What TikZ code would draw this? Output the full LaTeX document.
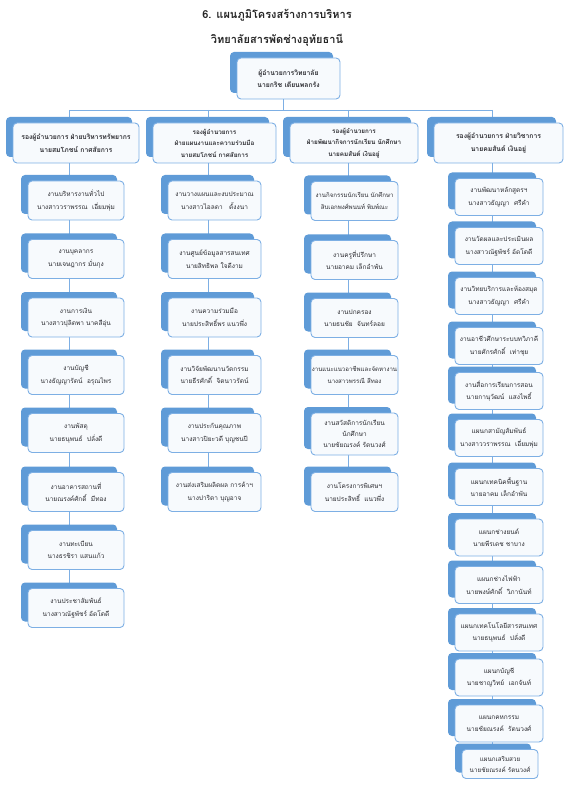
\documentclass[tikz,border=0pt]{standalone}
\usepackage{fontspec}
\newfontfamily\thai[Script=Thai]{Loma}
\usetikzlibrary{backgrounds,shadows}
\definecolor{backblue}{RGB}{95,155,215}
\definecolor{edgeblue}{RGB}{125,175,228}
\definecolor{cardfill}{RGB}{247,250,253}
\definecolor{txt}{RGB}{45,45,50}
\begin{document}
\begin{tikzpicture}[x=1pt,y=-1pt,
  card/.style={draw=edgeblue, line width=0.9pt, fill=cardfill, rounded corners=4pt,
    align=center, inner sep=0pt, text=txt,
    font=\thai\fontsize{6.5}{12.5}\selectfont,
    general shadow={fill=backblue, shadow xshift=-7pt, shadow yshift=6pt}},
  head/.style={card, font=\thai\bfseries\fontsize{6.8}{12.5}\selectfont, minimum height=40pt},
  job1/.style={card, minimum width=96pt, minimum height=39pt},
  job2/.style={card, minimum width=93pt, minimum height=39pt},
  job3/.style={card, minimum width=87pt, minimum height=39pt},
  job4/.style={card, minimum width=88pt, minimum height=37pt},
  conn/.style={draw=edgeblue, line width=0.9pt},
  title/.style={font=\thai\bfseries\fontsize{11}{13}\selectfont, text=black!85}]
\useasboundingbox (0,0) rectangle (579,791);

\node[title] (t1) at (277,15) {6. แผนภูมิโครงสร้างการบริหาร};
\node[title] (t2) at (277,40) {วิทยาลัยสารพัดช่างอุทัยธานี};

\coordinate (L0) at (283,0);
\coordinate (L1) at (69,0);
\coordinate (L2) at (208,0);
\coordinate (L3) at (348,0);
\coordinate (L4) at (492,0);
\coordinate (bus) at (0,110);

\node[head, minimum width=103pt, minimum height=41pt] (top) at (288.5,78.5) {ผู้อำนวยการวิทยาลัย\\นายกริช เตียนพลกรัง};

\node[head, minimum width=126pt] (h1) at (76,143) {รองผู้อำนวยการ ฝ่ายบริหารทรัพยากร\\นายสมโภชน์ กาศสัยการ};
\node[head, minimum width=123pt, font=\thai\bfseries\fontsize{6.3}{11.5}\selectfont] (h2) at (214.5,143) {รองผู้อำนวยการ\\ฝ่ายแผนงานและความร่วมมือ\\นายสมโภชน์ กาศสัยการ};
\node[head, minimum width=128pt, font=\thai\bfseries\fontsize{6.3}{11.5}\selectfont] (h3) at (354,143) {รองผู้อำนวยการ\\ฝ่ายพัฒนากิจการนักเรียน นักศึกษา\\นายคมสันต์ เงินอยู่};
\node[head, minimum width=129pt] (h4) at (498.5,143) {รองผู้อำนวยการ ฝ่ายวิชาการ\\นายคมสันต์ เงินอยู่};

% column 1
\node[job1] (a1) at (76,200.5) {งานบริหารงานทั่วไป\\นางสาววราพรรณ~~เอี่ยมพุ่ม};
\node[job1] (a2) at (76,259) {งานบุคลากร\\นายเจษฎากร มั่นกุง};
\node[job1] (a3) at (76,317.5) {งานการเงิน\\นางสาวปุลิตพา นาคสีอุ่น};
\node[job1] (a4) at (76,375) {งานบัญชี\\นางธัญญารัตน์~~อรุณไพร};
\node[job1] (a5) at (76,433) {งานพัสดุ\\นายธนุพนธ์~~ปลั่งดี};
\node[job1] (a6) at (76,492) {งานอาคารสถานที่\\นายณรงค์ศักดิ์~~มีทอง};
\node[job1] (a7) at (76,550) {งานทะเบียน\\นางธรชิรา แสนแก้ว};
\node[job1] (a8) at (76,608) {งานประชาสัมพันธ์\\นางสาวณัฐพัชร์ อัดโตดี};

% column 2
\node[job2] (b1) at (214.5,200.5) {งานวางแผนและงบประมาณ\\นางสาวไอลดา~~~ตั้งงนา};
\node[job2] (b2) at (214.5,259) {งานศูนย์ข้อมูลสารสนเทศ\\นายสิทธิพล ใจดีงาม};
\node[job2] (b3) at (214.5,317.5) {งานความร่วมมือ\\นายประสิทธิ์พร แนวพึ่ง};
\node[job2] (b4) at (214.5,375) {งานวิจัยพัฒนานวัตกรรม\\นายธีรศักดิ์~~จิตนาวรัตน์};
\node[job2] (b5) at (214.5,433) {งานประกันคุณภาพ\\นางสาวปิยะวดี บุญชนปี};
\node[job2] (b6) at (214.5,492) {งานส่งเสริมผลิตผล การค้าฯ\\นางปาริตา บุญอาจ};

% column 3
\node[job3, font=\thai\fontsize{6.1}{12.5}\selectfont] (c1) at (354.5,201) {งานกิจกรรมนักเรียน นักศึกษา\\สิบเอกพงศ์พนนท์ พิมพ์ณะ};
\node[job3] (c2) at (354.5,260) {งานครูที่ปรึกษา\\นายอาคม เล็กอำพัน};
\node[job3] (c3) at (354.5,318) {งานปกครอง\\นายธนชัย~~จันทร์ลอย};
\node[job3, font=\thai\fontsize{6.1}{12.5}\selectfont] (c4) at (354.5,375) {งานแนะแนวอาชีพและจัดหางาน\\นางสาวพรรณี สีทอง};
\node[job3, minimum height=42pt, font=\thai\fontsize{6.5}{11}\selectfont] (c5) at (354.5,434) {งานสวัสดิการนักเรียน\\นักศึกษา\\นายชัยณรงค์ รัตนวงศ์};
\node[job3] (c6) at (354.5,492) {งานโครงการพิเศษฯ\\นายประสิทธิ์~~แนวพึ่ง};

% column 4
\node[job4] (d1) at (499,197) {งานพัฒนาหลักสูตรฯ\\นางสาวธัญญา~~ศรีคำ};
\node[job4] (d2) at (499,246) {งานวัดผลและประเมินผล\\นางสาวณัฐพัชร์ อัดโตดี};
\node[job4] (d3) at (499,296) {งานวิทยบริการและห้องสมุด\\นางสาวธัญญา~~ศรีคำ};
\node[job4] (d4) at (499,346) {งานอาชีวศึกษาระบบทวิภาคี\\นายศักรศักดิ์~~เท่าชุย};
\node[job4] (d5) at (499,391) {งานสื่อการเรียนการสอน\\นายกานุวัฒน์~~แสงไพธิ์};
\node[job4] (d6) at (499,438) {แผนกสามัญสัมพันธ์\\นางสาววราพรรณ~~เอี่ยมพุ่ม};
\node[job4] (d7) at (499,487) {แผนกเทคนิคพื้นฐาน\\นายอาคม เล็กอำพัน};
\node[job4] (d8) at (499,537.5) {แผนกช่างยนต์\\นายพีรเดช ชาบาง};
\node[job4] (d9) at (499,585) {แผนกช่างไฟฟ้า\\นายพงษ์ศักดิ์~~วิภานันท์};
\node[job4] (d10) at (499,632.5) {แผนกเทคโนโลยีสารสนเทศ\\นายธนุพนธ์~~ปลั่งดี};
\node[job4] (d11) at (499,677.5) {แผนกบัญชี\\นายชาญวิทย์~~เอกจันท์};
\node[job4] (d12) at (499,723.5) {แผนกคหกรรม\\นายชัยณรงค์~~รัตนวงศ์};
\node[card, minimum width=76pt, minimum height=29pt, font=\thai\fontsize{6.3}{11}\selectfont] (d13) at (500,764) {แผนกเสริมสวย\\นายชัยณรงค์ รัตนวงศ์};

\begin{scope}[on background layer]
  \draw[conn] (top.south -| L0) -- (L0 |- bus);
  \draw[conn] (L1 |- bus) -- (L4 |- bus);
  \foreach \k in {1,2,3,4}
    \draw[conn] (L\k |- bus) -- (h\k.north -| L\k);
  \draw[conn] (h1.south -| L1) -- (a1.north -| L1);
  \foreach \i [count=\j from 2] in {1,...,7}
    \draw[conn] (a\i.south -| L1) -- (a\j.north -| L1);
  \draw[conn] (h2.south -| L2) -- (b1.north -| L2);
  \foreach \i [count=\j from 2] in {1,...,5}
    \draw[conn] (b\i.south -| L2) -- (b\j.north -| L2);
  \draw[conn] (h3.south -| L3) -- (c1.north -| L3);
  \foreach \i [count=\j from 2] in {1,...,5}
    \draw[conn] (c\i.south -| L3) -- (c\j.north -| L3);
  \draw[conn] (h4.south -| L4) -- (d1.north -| L4);
  \foreach \i [count=\j from 2] in {1,...,12}
    \draw[conn] (d\i.south -| L4) -- (d\j.north -| L4);
\end{scope}
\end{tikzpicture}
\end{document}
